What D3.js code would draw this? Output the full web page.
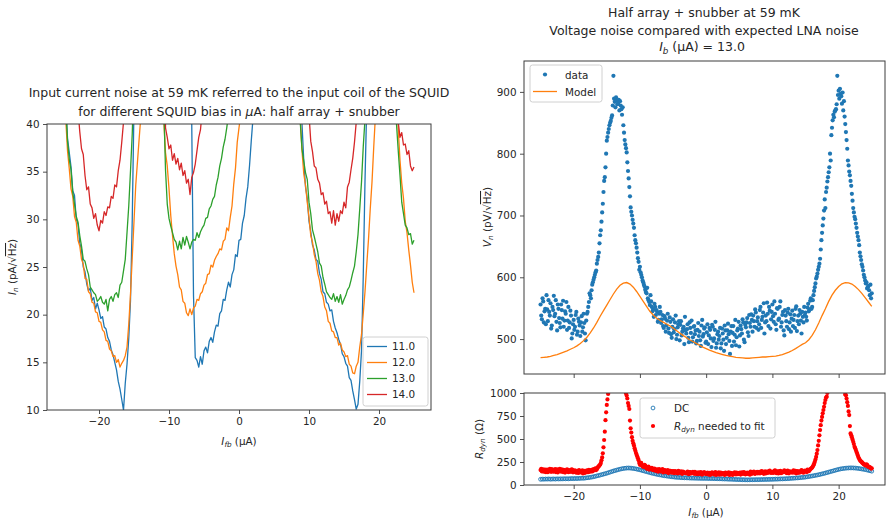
<!DOCTYPE html>
<html><head><meta charset="utf-8">
<script src="https://cdn.jsdelivr.net/npm/d3@7"></script>
<style>body{margin:0;background:#fff}</style>
</head><body><svg id="c" width="887" height="525"></svg>
<script>
// ---------------- DATA ----------------
const biasLabels = ["11.0", "12.0", "13.0", "14.0"];
const leftStart = -25, leftStep = 0.25;   // I_fb sweep (µA) for left panel
const noise11 = [
 46,42,38.5,37, 35.5,33,32.5,30, 29.5,27.5,26.8,25, 24.5,23.2,22.5,22.8, 21.5,21.8,20.6,21.2,
 20.5,19.6,19.8,18.7, 18.5,17.6,17.2,16.3, 15.8,15.0,14.2,13.0, 12.2,11.1,10.0,12.8, 14.8,17.5,21.5,30,
 42,60,70,75, 80,80,80,80, 80,80,80,80, 80,80,80,80, 80,80,80,80,
 80,80,80,80, 80,80,80,80, 80,80,80,80, 70,40,22,15.5, 15.2,14.5,15.6,14.8,
 16.2,16.6,16.0,17.2, 17.6,17.1,18.2,18.9, 18.8,20.1,20.4,21.6, 21.5,22.6,23.4,22.9, 24.2,24.7,26.3,26.1,
 27.8,27.9,29.6,30.4, 32.2,33.4,35.6,38.2, 40.6,50,65,75, 80,80,80,80, 80,80,80,80,
 80,80,80,80, 80,80,80,80, 80,80,80,80, 80,75,68,55, 40,36.2,33.4,32.2,
 29.8,28.7,27.3,26.8, 25.8,25.6,24.3,23.7, 22.4,22.2,21.3,21.1, 20.4,20.5,19.3,18.6, 18.1,17.4,16.9,15.9,
 15.6,14.9,14.6,13.4, 13.1,12.0,11.1,10.1, 10.6,13.0,16.2,24, 34,42,60,75, 80,80,80,80,
 80,80,80,80, 80,80,80,80, 80,80,80,80, 80,80,80,80, 80,80,80,80, 80];
const noise12 = [
 46,40.5,37.2,35.3, 33.2,32.4,30.3,29.7, 27.8,27.2,25.8,25.3, 23.8,23.7,22.4,22.2, 21.3,21.2,20.3,20.2,
 19.3,19.2,18.4,18.2, 17.3,17.2,16.4,16.2, 15.6,15.7,15.0,15.3, 14.5,14.9,15.2,15.7, 16.6,19.0,22.2,26.0,
 29.8,33.6,36.1,38.6, 41,50,65,75, 80,80,80,80, 80,80,80,80, 60,40.5,37.0,35.6,
 33.2,30.4,28.3,26.4, 25.1,24.2,22.9,22.6, 21.4,21.2,20.2,19.9, 20.6,20.0,20.7,20.9, 21.6,21.5,22.2,22.4,
 23.1,23.3,24.2,24.3, 25.2,25.0,25.7,26.1, 26.4,26.9,26.8,27.7, 27.9,29.1,28.8,30.2, 31.4,33.7,35.4,38.1,
 39.6,41,55,70, 80,80,80,80, 80,80,80,80, 80,80,80,80, 80,80,80,80,
 80,80,80,80, 80,80,80,80, 80,80,80,80, 80,75,60,40.5, 37.2,34.8,33.6,31.8,
 30.2,28.3,27.6,26.3, 25.6,24.3,23.6,22.4, 21.9,20.8,20.4,19.3, 19.1,18.3,18.2,17.6, 17.6,16.8,17.0,16.3,
 16.1,15.6,15.7,14.8, 14.6,13.9,13.8,14.6, 15.0,16.6,17.9,20.1, 22.4,25.2,27.9,31.1, 33.9,37.6,41,55,
 70,80,80,80, 80,80,80,80, 80,75,60,39.5, 36.2,33.8,32.2,29.8, 28.6,26.8,25.2,23.4, 22.3];
const noise13 = [
 50,42,38.2,36.3, 35.2,32.8,31.6,30.3, 29.7,28.3,27.2,25.8, 25.6,24.8,24.2,22.9, 22.6,22.3,22.1,21.4,
 21.6,21.9,21.3,21.1, 21.6,20.4,21.6,21.9, 21.4,22.1,22.3,21.8, 23.1,23.4,24.6,25.8, 28.6,31.4,35.1,39.0,
 45,60,75,80, 80,80,80,80, 80,80,80,80, 80,80,80,80, 60,42,35.2,31.6,
 30.1,29.3,28.6,27.9, 27.6,26.8,27.7,26.9, 28.1,27.3,28.2,27.6, 26.9,27.6,27.9,27.8, 28.6,28.1,28.7,29.1,
 29.4,30.1,30.2,31.1, 31.4,32.1,32.4,33.6, 34.4,35.6,36.4,37.6, 38.4,39.6,41,55, 70,80,80,80,
 80,80,80,80, 80,80,80,80, 80,80,80,80, 80,80,80,80, 80,80,80,80,
 80,80,80,80, 80,80,80,80, 80,80,80,80, 80,75,60,40.2, 37.4,36.1,34.9,34.2,
 31.8,30.6,28.9,28.2, 27.4,26.6,25.4,25.1, 23.9,23.2,22.4,22.1, 21.8,21.6,22.2,21.4, 21.9,21.3,22.1,21.1,
 21.6,22.0,22.6,22.9, 23.6,24.4,25.1,26.6, 28.4,31.1,33.9,37.6, 40.5,55,70,80, 80,80,80,80,
 80,80,80,80, 80,80,80,80, 80,60,40,37.2, 34.6,31.8,30.6,29.4, 29.1,28.4,28.5,27.4, 27.8];
const noise14 = [
 80,80,80,80, 80,80,80,60, 41.5,39.2,37.4,36.8, 34.6,33.1,33.4,31.6, 31.2,30.1,30.6,29.4,
 28.8,29.9,29.6,30.8, 30.4,31.3,31.2,32.4, 32.2,33.6,33.4,35.1, 36.2,38.1,40.2,55, 80,80,80,80,
 80,80,80,80, 80,80,80,80, 80,80,80,80, 80,80,80,80, 80,60,39.6,38.6,
 37.4,37.8,36.2,36.9, 35.8,36.4,35.2,35.9, 34.6,35.1,33.8,34.2, 32.6,34.4,34.9,35.8, 37.2,38.6,39.4,41.5,
 55,70,80,80, 80,80,80,80, 80,80,80,80, 80,80,80,80, 80,80,80,80,
 80,80,80,80, 80,80,80,80, 80,80,80,80, 80,80,80,80, 80,80,80,80,
 80,80,80,80, 80,80,80,80, 80,80,80,80, 80,80,80,80, 80,80,80,60,
 41,38.2,37.1,35.6, 35.4,34.2,33.8,32.6, 32.8,31.6,31.9,30.6, 30.8,29.6,30.9,29.4, 30.6,29.8,30.9,30.6,
 31.8,31.2,33.4,33.9, 35.2,36.4,38.1,40.2, 50,70,80,80, 80,80,80,80, 80,80,80,80,
 80,80,80,80, 80,80,80,80, 80,80,60,40.2, 38.6,39.1,37.8,37.9, 36.8,37.2,35.6,35.1, 35.5];
const leftSeries = [noise11, noise12, noise13, noise14];

// right panels: sweep sampled every 0.2 µA starting at -25 (A) and at -24.9 (B)
const rightStartA = -25, rightStartB = -24.9, rightStep = 0.2;
const vnDataA = [
 556,532,561,545,524, 548,563,538,517,552, 570,541,528,556,534, 519,547,562,530,541, 515,552,527,538,509,
 531,520,544,512,528, 505,537,519,526,498, 541,552,574,566,588, 596,604,611,628,640, 668,690,719,756,778,
 821,834,846,853,862, 926,884,891,880,887, 885,872,875,834,815, 802,772,746,713,700, 687,668,655,640,625,
 617,604,595,588,580, 574,566,560,571,552, 548,557,539,544,531, 552,526,539,518,533, 522,541,510,528,502,
 532,516,538,507,524, 498,529,512,520,536, 509,524,495,518,530, 503,521,514,497,526, 512,489,531,508,519,
 496,524,506,515,487, 520,501,528,493,512, 505,485,517,499,522, 492,514,508,476,521, 510,496,531,503,517,
 488,522,509,527,495, 519,534,505,526,540, 512,529,548,518,535, 524,552,531,543,509, 538,559,521,546,532,
 556,528,541,515,549, 533,561,527,544,506, 538,520,549,527,512, 546,531,518,553,529, 524,541,509,536,552,
 543,530,557,548,566, 552,571,584,598,606, 617,630,660,684,708, 712,745,762,778,789, 842,863,868,872,926,
 902,905,893,899,885, 848,822,789,771,756, 735,712,698,687,672, 660,640,628,617,604, 595,592,584,579,588,
 574];
const vnDataB = [
 538,566,527,549,571, 529,544,558,522,547, 537,563,514,549,526, 556,533,520,545,560, 530,518,546,501,524,
 515,539,507,533,522, 527,512,541,509,530, 544,560,571,579,592, 600,608,622,633,655, 676,705,738,762,800,
 827,840,850,858,878, 889,875,886,881,870, 878,863,846,822,809, 786,760,731,706,693, 680,660,648,631,612,
 608,600,592,585,576, 583,563,555,561,545, 536,552,547,528,541, 544,532,521,537,512, 530,517,535,508,520,
 511,527,500,519,529, 523,506,517,492,514, 516,502,527,510,496, 520,508,493,515,505, 498,522,504,517,494,
 511,492,518,501,523, 497,515,486,508,499, 518,493,509,481,514, 502,525,497,512,489, 521,507,490,514,528,
 506,516,532,499,523, 527,511,539,520,531, 538,520,543,529,515, 547,518,536,558,527, 529,541,552,517,544,
 537,561,524,550,531, 552,520,539,514,547, 529,543,516,540,533, 521,539,549,513,538, 547,530,544,527,539,
 536,551,545,562,549, 563,578,590,601,612, 622,645,672,695,726, 738,755,770,800,830, 854,859,870,880,895,
 889,897,881,870,860, 835,808,781,765,748, 724,705,694,680,666, 652,634,621,611,600, 590,582,586,571,566];
const modelStart = -25, modelStep = 0.5;
const vnModel = [
 470,470.5,471,472,473.5,475,477,479,481,483.5,
 486,489,493,497.5,503,510,518,527,537,546,
 555,564,573,581,587,590.5,591.5,589,584,577,
 569,561,553,545,539,534,530.5,527.5,524.5,521.5,
 518,514,510,506,502.5,499,496,493,490,487,
 484.5,482,480,478,476.5,475,473.5,472.5,471.5,470.5,
 470,469.5,469,469,469.5,470,470.5,471,471,471.5,
 472,472.5,473.5,475,477,479,481.5,484.5,488,491.5,
 494,499,506,515,526,538,549,561,571,579,
 585,589.5,591.5,591,589,585,580,574,567,560,
 553];
const dcStart = -25, dcStep = 0.25;
const rDC = [
 62,64,63,65, 64,66,63,65, 66,64,67,65, 67,66,68,67, 68,67,69,70,
 69,71,70,72, 72,74,73,76, 78,80,83,86, 90,94,99,103, 108,113,118,123,
 128,134,140,146, 152,157,162,167, 172,176,179,182, 184,185,184,182, 180,177,173,169,
 165,160,155,150, 145,140,135,130, 126,122,117,114, 110,107,103,100, 98,95,93,90,
 88,86,84,83, 82,80,79,78, 78,77,76,75, 75,74,74,73, 73,72,72,72,
 72,71,71,70, 70,69,69,68, 68,67,66,65, 65,64,63,63, 62,61,60,59,
 59,58,57,57, 56,56,56,57, 57,57,58,58, 58,59,59,60, 60,61,61,62,
 62,63,64,64, 65,66,66,67, 68,69,70,72, 73,74,76,77, 78,80,82,84,
 86,89,92,95, 98,101,105,108, 112,116,121,125, 130,135,140,145, 150,155,160,165,
 170,174,177,180, 182,184,185,186, 186,185,184,182, 180,177,174,171, 168,164,159,155, 150];
const rDynA = [
 162,148,171,155,139, 168,152,176,143,160, 149,173,158,137,166, 152,170,141,163,148, 171,139,157,146,165,
 142,158,134,150,161, 137,149,126,155,144, 158,139,151,162,147, 168,176,162,188,205, 222,268,344,489,705,
 870,990,1400,2000,2500, 3000,3500,3000,2500,2000, 1800,1500,1300,1150,1020, 972,890,826,616,520, 453,400,350,310,270,
 219,240,205,196,210, 181,192,168,175,186, 162,178,155,170,149, 166,152,173,144,158, 139,161,148,155,133,
 150,128,146,137,155, 131,148,122,141,136, 127,145,118,139,130, 142,121,135,117,138, 124,140,113,132,127,
 119,136,125,110,133, 128,115,139,121,130, 112,134,118,127,109, 131,120,137,114,126, 110,129,121,135,117,
 126,113,138,122,131, 118,135,124,112,140, 129,146,121,137,125, 142,128,150,133,138, 125,147,139,156,131,
 144,136,158,129,149, 137,155,132,146,160, 141,129,152,138,147, 133,158,142,127,150, 145,136,161,139,148,
 152,140,163,158,176, 190,215,252,305,380, 480,597,700,779,850, 924,960,1100,1400,1800, 2500,3000,3200,3000,2500,
 2200,1800,1500,1300,1100, 985,940,860,760,561, 520,470,416,380,340, 300,271,255,240,226, 217,224,205,198,188,
 181];
const rDynB = [
 175,158,144,167,152, 139,161,150,172,146, 160,141,169,152,175, 144,158,166,135,157, 150,163,145,170,138,
 155,140,148,131,153, 145,160,138,131,152, 141,166,145,156,170, 158,181,172,196,214, 240,300,410,580,790,
 930,1200,1700,2300,2800, 3300,3200,2800,2200,1900, 1650,1400,1220,1080,995, 940,860,700,570,480, 430,375,330,290,240,
 228,212,199,220,190, 176,199,171,183,165, 170,157,165,146,172, 148,160,137,162,151, 145,130,154,141,149,
 134,152,140,125,143, 139,125,146,133,128, 135,121,140,126,133, 128,144,123,130,119, 136,118,129,141,121,
 127,114,131,122,138, 120,133,109,126,137, 125,116,130,121,135, 117,128,109,132,121, 126,138,115,124,130,
 135,120,127,141,116, 128,120,133,147,122, 138,124,132,143,131, 127,145,136,122,149, 140,131,152,137,144,
 131,153,140,146,125, 150,128,143,139,152, 134,156,127,145,140, 148,135,153,141,132, 138,155,143,133,157,
 146,168,150,171,182, 200,232,276,340,430, 540,650,740,815,890, 950,1000,1250,1600,2100, 2800,3100,3100,2800,2400,
 2000,1650,1400,1200,1050, 975,900,800,640,540, 495,445,400,360,320, 285,262,248,233,221, 211,218,196,192,178];

const xTicks = [-20, -10, 0, 10, 20];
const leftYTicks = [10, 15, 20, 25, 30, 35, 40];
const vnTicks = [500, 600, 700, 800, 900];
const rTicks = [0, 250, 500, 750, 1000];

// ---------------- DRAW ----------------
const FONT = '"DejaVu Sans", sans-serif';
const TXT = "#262626", SPINE = "#3c3c3c";
const C = ["#1f77b4", "#ff7f0e", "#2ca02c", "#d62728"];
const svg = d3.select("#c");
const FS = 10.4, TFS = 12.5;

function rich(sel, parts, fs) {
  let shifted = 0;
  parts.forEach(p => {
    const ts = sel.append("tspan").text(p.t);
    if (p.i) ts.attr("font-style", "italic");
    if (p.sub) { ts.attr("font-size", fs * 0.7).attr("dy", fs * 0.22 - shifted); shifted = fs * 0.22; }
    else if (shifted) { ts.attr("dy", -shifted); shifted = 0; }
    if (p.over) ts.style("text-decoration", "overline");
  });
  return sel;
}
function txt(x, y, fs, anchor) {
  return svg.append("text").attr("x", x).attr("y", y).attr("font-family", FONT)
    .attr("font-size", fs).attr("fill", TXT).attr("text-anchor", anchor || "middle");
}
function styleAxis(a) {
  a.select(".domain").remove();
  a.selectAll("line").attr("stroke", SPINE).attr("stroke-width", 0.9);
  a.selectAll("text").attr("font-family", FONT).attr("font-size", FS).attr("fill", TXT);
}
function axes(x, y, xt, yt, xLabels, id) {
  const [x0, x1] = x.range(), [y0, y1] = y.range();
  svg.append("clipPath").attr("id", id).append("rect")
    .attr("x", x0).attr("y", y1).attr("width", x1 - x0).attr("height", y0 - y1);
  styleAxis(svg.append("g").attr("transform", `translate(0,${y0})`)
    .call(d3.axisBottom(x).tickValues(xt).tickSize(4).tickPadding(3.5)
      .tickFormat(xLabels ? d3.format("d") : () => "")));
  styleAxis(svg.append("g").attr("transform", `translate(${x0},0)`)
    .call(d3.axisLeft(y).tickValues(yt).tickSize(4).tickPadding(3.5).tickFormat(d3.format("d"))));
  return svg.append("g").attr("clip-path", `url(#${id})`);
}
function frame(x, y) {
  const [x0, x1] = x.range(), [y0, y1] = y.range();
  svg.append("rect").attr("x", x0).attr("y", y1).attr("width", x1 - x0).attr("height", y0 - y1)
    .attr("fill", "none").attr("stroke", SPINE).attr("stroke-width", 1);
}
function legendBox(x, y, w, h) {
  svg.append("rect").attr("x", x).attr("y", y).attr("width", w).attr("height", h).attr("rx", 2.5)
    .attr("fill", "#fff").attr("fill-opacity", 0.8).attr("stroke", "#d0d0d0").attr("stroke-width", 1);
}
function pts(a, b) {
  return a.map((v, i) => ({x: rightStartA + i * rightStep, y: v}))
    .concat(b.map((v, i) => ({x: rightStartB + i * rightStep, y: v})))
    .sort((p, q) => p.x - q.x);
}

// ----- Left panel -----
const xL = d3.scaleLinear().domain([-27.43, 27.43]).range([47, 431]);
const yL = d3.scaleLinear().domain([10, 40]).range([410, 124]);
const gL = axes(xL, yL, xTicks, leftYTicks, true, "clipL");
const xsL = i => leftStart + i * leftStep;
leftSeries.forEach((s, k) => {
  gL.append("path").datum(s).attr("fill", "none").attr("stroke", C[k]).attr("stroke-width", 1.3)
    .attr("stroke-linejoin", "round")
    .attr("d", d3.line().x((d, i) => xL(xsL(i))).y(d => yL(d)));
});
frame(xL, yL);
legendBox(363, 337, 65, 69);
biasLabels.forEach((lab, k) => {
  const yy = 346.5 + k * 16;
  svg.append("line").attr("x1", 367).attr("x2", 387).attr("y1", yy).attr("y2", yy)
    .attr("stroke", C[k]).attr("stroke-width", 1.3);
  txt(392, yy + 3.8, FS, "start").text(lab);
});
txt(239, 96.5, TFS).text("Input current noise at 59 mK referred to the input coil of the SQUID");
rich(txt(239, 115.5, TFS), [{t: "for different SQUID bias in "}, {t: "μ", i: true}, {t: "A: half array + snubber"}], TFS);
rich(txt(239, 445, FS), [{t: "I", i: true}, {t: "fb", i: true, sub: true}, {t: " (μA)"}], FS);
rich(txt(0, 0, FS).attr("transform", "translate(16,267) rotate(-90)"),
  [{t: "I", i: true}, {t: "n", i: true, sub: true}, {t: " (pA/√"}, {t: "Hz", over: true}, {t: ")"}], FS);

// ----- Right top panel -----
const xR = d3.scaleLinear().domain([-27.5, 27.0]).range([524, 885]);
const yT = d3.scaleLinear().domain([443.5, 950]).range([374, 61]);
const gT = axes(xR, yT, xTicks, vnTicks, false, "clipT");
gT.selectAll("circle.d").data(pts(vnDataA, vnDataB)).join("circle").attr("class", "d")
  .attr("cx", d => xR(d.x)).attr("cy", d => yT(d.y)).attr("r", 2.1).attr("fill", C[0]);
gT.append("path").datum(vnModel).attr("fill", "none").attr("stroke", C[1]).attr("stroke-width", 1.3)
  .attr("d", d3.line().x((d, i) => xR(modelStart + i * modelStep)).y(d => yT(d)));
frame(xR, yT);
legendBox(530, 65, 72, 37);
svg.append("circle").attr("cx", 545).attr("cy", 74.5).attr("r", 2.1).attr("fill", C[0]);
txt(565, 78.5, FS, "start").text("data");
svg.append("line").attr("x1", 533).attr("x2", 557).attr("y1", 91.5).attr("y2", 91.5)
  .attr("stroke", C[1]).attr("stroke-width", 1.3);
txt(565, 95.5, FS, "start").text("Model");
txt(704, 17, TFS).text("Half array + snubber at 59 mK");
txt(704, 34.5, TFS).text("Voltage noise compared with expected LNA noise");
rich(txt(702, 51, TFS), [{t: "I", i: true}, {t: "b", i: true, sub: true}, {t: " (µA) = 13.0"}], TFS);
rich(txt(0, 0, FS).attr("transform", "translate(491,217) rotate(-90)"),
  [{t: "V", i: true}, {t: "n", i: true, sub: true}, {t: " (pV/√"}, {t: "Hz", over: true}, {t: ")"}], FS);

// ----- Right bottom panel -----
const yB = d3.scaleLinear().domain([0, 1000]).range([485, 393]);
const gB = axes(xR, yB, xTicks, rTicks, true, "clipB");
gB.selectAll("circle.dc").data(rDC).join("circle").attr("class", "dc")
  .attr("cx", (d, i) => xR(dcStart + i * dcStep)).attr("cy", d => yB(d)).attr("r", 1.9)
  .attr("fill", "none").attr("stroke", C[0]).attr("stroke-width", 0.9);
gB.selectAll("circle.rd").data(pts(rDynA, rDynB)).join("circle").attr("class", "rd")
  .attr("cx", d => xR(d.x)).attr("cy", d => yB(d.y)).attr("r", 2.1).attr("fill", "#ff0000");
frame(xR, yB);
legendBox(640, 398, 135, 40);
svg.append("circle").attr("cx", 653).attr("cy", 408).attr("r", 1.9).attr("fill", "none")
  .attr("stroke", C[0]).attr("stroke-width", 0.9);
txt(674, 411.8, FS, "start").text("DC");
svg.append("circle").attr("cx", 653).attr("cy", 426).attr("r", 2.1).attr("fill", "#ff0000");
rich(txt(674, 429.8, FS, "start"), [{t: "R", i: true}, {t: "dyn", i: true, sub: true}, {t: " needed to fit"}], FS);
rich(txt(706, 516, FS), [{t: "I", i: true}, {t: "fb", i: true, sub: true}, {t: " (µA)"}], FS);
rich(txt(0, 0, FS).attr("transform", "translate(483,439) rotate(-90)"),
  [{t: "R", i: true}, {t: "dyn", i: true, sub: true}, {t: " (Ω)"}], FS);
</script></body></html>
